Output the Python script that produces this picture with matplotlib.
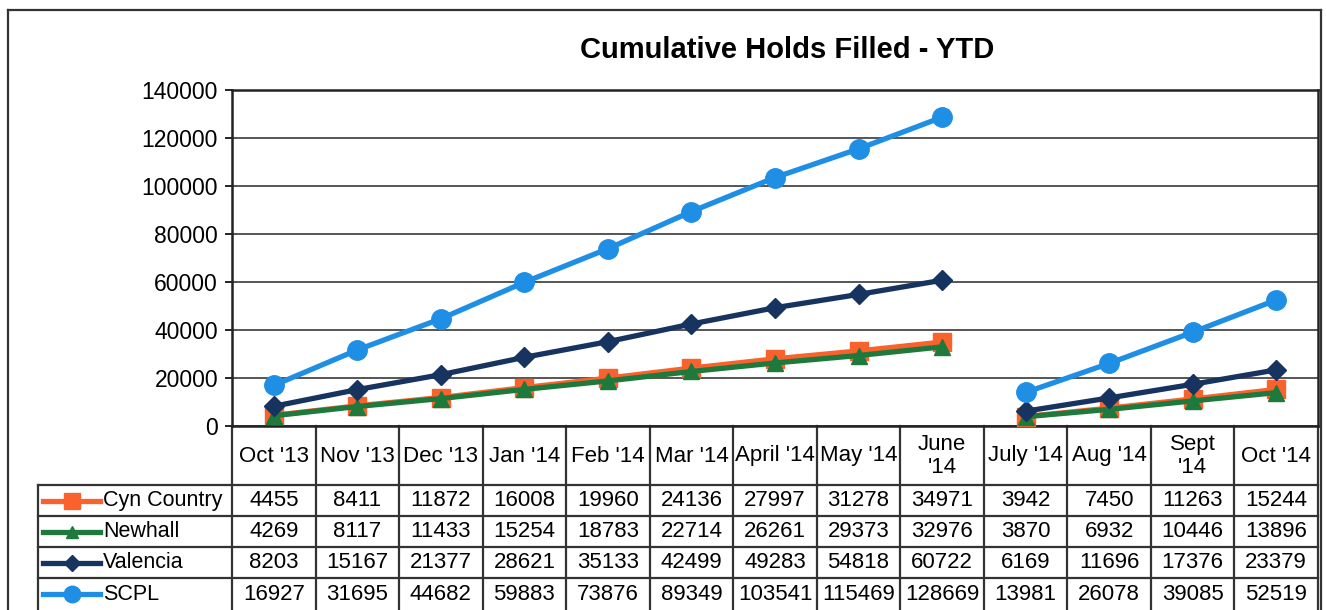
import matplotlib.pyplot as plt
import matplotlib.transforms as mtransforms
from matplotlib.lines import Line2D

plt.rcParams['font.family'] = ['Liberation Sans', 'DejaVu Sans']

months = ["Oct '13", "Nov '13", "Dec '13", "Jan '14", "Feb '14", "Mar '14", "April '14",
          "May '14", "June\n'14", "July '14", "Aug '14", "Sept\n'14", "Oct '14"]
cyn_country = [4455, 8411, 11872, 16008, 19960, 24136, 27997, 31278, 34971, 3942, 7450, 11263, 15244]
newhall = [4269, 8117, 11433, 15254, 18783, 22714, 26261, 29373, 32976, 3870, 6932, 10446, 13896]
valencia = [8203, 15167, 21377, 28621, 35133, 42499, 49283, 54818, 60722, 6169, 11696, 17376, 23379]
scpl = [16927, 31695, 44682, 59883, 73876, 89349, 103541, 115469, 128669, 13981, 26078, 39085, 52519]
year_split = 9  # new fiscal year starts at July '14

series = [
    ("Cyn Country", cyn_country, "#f9622d", "s", 13),
    ("Newhall", newhall, "#1d7a3c", "^", 11),
    ("Valencia", valencia, "#17335f", "D", 10),
    ("SCPL", scpl, "#1f8fe6", "o", 14),
]

W, H = 1327, 610
fig = plt.figure(figsize=(W / 100, H / 100), dpi=100)
ax = fig.add_axes([232 / W, (H - 426) / H, (1318 - 232) / W, (426 - 90) / H])

x = list(range(len(months)))
for name, vals, color, mk, ms in series:
    for a, b in [(0, year_split), (year_split, len(vals))]:
        ax.plot(x[a:b], vals[a:b], color=color, lw=3.8, marker=mk, ms=ms,
                markeredgecolor=color, clip_on=False, zorder=3)

ax.set_xlim(-0.5, len(months) - 0.5)
ax.set_ylim(0, 140000)
ax.set_yticks(range(0, 140001, 20000))
ax.set_yticklabels([str(v) for v in range(0, 140001, 20000)], fontsize=16.5)
ax.tick_params(axis='y', length=5, width=1.2, pad=5)
ax.set_xticks([])
ax.grid(axis='y', color='#555555', lw=1.4)
ax.set_axisbelow(True)
for s in ax.spines.values():
    s.set_color('#222222')
    s.set_linewidth(1.8)

fig.text(787 / W, (H - 50) / H, "Cumulative Holds Filled - YTD", ha='center', va='center',
         fontsize=21, fontweight='bold')

# data table under the chart
trans = mtransforms.blended_transform_factory(ax.transData, ax.transAxes)
axh = 426 - 90
def yf(py):
    return (426 - py) / axh

rows_y = [485, 516, 547, 578, 610]
lx0 = (38 - 232) / (1318 - 232)
lc = dict(color='#333333', lw=1.6, clip_on=False, transform=ax.transAxes)
for py in rows_y[:-1]:
    ax.plot([lx0, 1], [yf(py), yf(py)], **lc)
ax.plot([lx0, lx0], [yf(485), yf(612)], **lc)
for k in range(len(months) + 1):
    ax.plot([k - 0.5, k - 0.5], [0, yf(612)], color='#333333', lw=1.6, clip_on=False, transform=trans)

for i, m in enumerate(months):
    ax.text(i, yf(456), m, transform=trans, ha='center', va='center', fontsize=16, linespacing=1.15)

for r, (name, vals, color, mk, ms) in enumerate(series):
    ymid = yf((rows_y[r] + rows_y[r + 1]) / 2)
    for i, v in enumerate(vals):
        ax.text(i, ymid, str(v), transform=trans, ha='center', va='center', fontsize=16)
    kx0 = (43 - 232) / (1318 - 232)
    kx1 = (100 - 232) / (1318 - 232)
    ax.add_line(Line2D([kx0, kx1], [ymid, ymid], color=color, lw=3.8, transform=ax.transAxes, clip_on=False))
    ax.add_line(Line2D([(kx0 + kx1) / 2], [ymid], color=color, marker=mk, ms=ms * 0.85,
                       transform=ax.transAxes, clip_on=False))
    ax.text((103 - 232) / (1318 - 232), ymid, name, transform=ax.transAxes, ha='left', va='center', fontsize=15.5)

# outer frame
fl = dict(color='#333333', lw=1.6, transform=fig.transFigure)
fig.add_artist(Line2D([8 / W, 1321 / W], [(H - 10) / H] * 2, **fl))
fig.add_artist(Line2D([8 / W] * 2, [0, (H - 10) / H], **fl))
fig.add_artist(Line2D([1321 / W] * 2, [0, (H - 10) / H], **fl))

fig.savefig("out.png", dpi=100)
